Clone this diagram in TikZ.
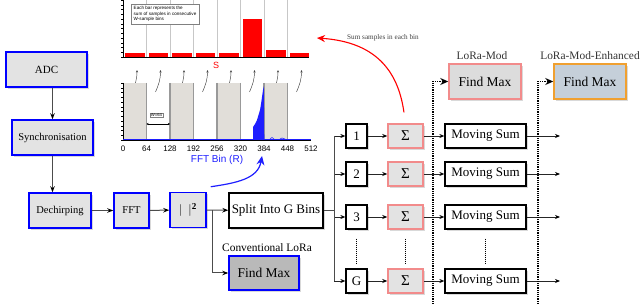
\documentclass[tikz,border=0pt]{standalone}
\usepackage{fontspec}
\setmainfont{Liberation Serif}
\newfontfamily\plotfont{Liberation Sans}
\usepackage{xcolor}
\usetikzlibrary{shapes.geometric, arrows, arrows.meta, positioning, shadows}
\definecolor{boxgray}{HTML}{E3E3E3}
\definecolor{darkbox}{HTML}{B9B9B9}
\definecolor{modgray}{HTML}{DCDCDC}
\definecolor{pinkline}{HTML}{F28B8B}
\definecolor{orangeline}{HTML}{F0A030}
\definecolor{steelbox}{HTML}{C5CFD9}
\definecolor{binshade}{HTML}{E1DED9}
\definecolor{fftblue}{HTML}{1E1EFF}
\newcommand{\ptsize}[1]{\fontsize{#1}{#1}\selectfont}
\tikzstyle{shade box} = [drop shadow={opacity=0.3, shadow xshift=2pt, shadow yshift=-2pt}]
\tikzstyle{blk} = [rectangle, draw=blue, line width=1.5pt, fill=boxgray,
minimum height=35pt, inner sep=1pt, text centered, shade box]
\tikzstyle{plain} = [rectangle, draw=black, line width=1.3pt, fill=white,
inner sep=1pt, text centered, shade box]
\tikzstyle{numbox} = [plain, minimum width=21pt, minimum height=24pt, font=\ptsize{13}]
\tikzstyle{sigma} = [rectangle, draw=pinkline, line width=1.5pt, fill=boxgray,
minimum width=35pt, minimum height=24pt, inner sep=1pt, font=\ptsize{15}, shade box]
\tikzstyle{msum} = [plain, minimum width=81pt, minimum height=24pt, font=\ptsize{13}]
\tikzstyle{arrow} = [draw=black!70, line width=1pt, -{Stealth[length=6pt, width=4.5pt, color=black]}]
\tikzstyle{line} = [draw=black!70, line width=1pt]
\tikzstyle{thinarrow} = [draw=black!85, line width=0.8pt, -{Stealth[length=5pt, width=4pt, color=black]}]
\tikzstyle{dotarrow} = [densely dotted, line width=1.2pt, -{Stealth[length=8pt, width=7pt]}]
\tikzstyle{tinyarrow} = [draw=black!75, line width=0.45pt, -{Stealth[length=2.5pt, width=2pt]}]

\begin{document}
\begin{tikzpicture}[x=1pt, y=-1pt]
\useasboundingbox (0,0) rectangle (640,304);

% receiver chain
\node[blk, minimum width=81pt, font=\ptsize{11}] (adc) at (46.5,69.5) {ADC};
\node[blk, minimum width=81pt, font=\ptsize{10.5}] (sync) at (52.5,137.5) {Synchronisation};
\node[blk, minimum width=62pt, font=\ptsize{10.5}] (dechirp) at (60,210.5) {Dechirping};
\node[blk, minimum width=35pt, font=\ptsize{10.5}] (fft) at (131.5,210.5) {FFT};
\node[blk, minimum width=36pt, font=\ptsize{13}] (mag) at (188,210) {$|\hspace{6pt}|^{\mathbf{2}}$};
\node[plain, minimum width=94pt, minimum height=35pt, font=\ptsize{13}] (split) at (276,210.5) {Split Into G Bins};
\node[blk, fill=darkbox, minimum width=70pt, minimum height=34pt, font=\ptsize{13.5}] (convmax) at (264,273) {Find Max};
\node[above=0pt of convmax, xshift=3pt, font=\ptsize{11.4}] (convlab) {Conventional LoRa};

\draw[arrow] (sync.north |- adc.south) -- (sync.north);
\draw[arrow] (sync.south) -- (sync.south |- dechirp.north);
\draw[arrow] (dechirp) -- (fft);
\draw[arrow] (fft) -- (mag);
\draw[arrow] (mag) -- (split);
\coordinate (tap) at (212,210.5);
\draw[arrow] (tap) |- (convmax.west);

% G branches
\coordinate (bus) at (334,210.5);
\draw[line, line width=0.8pt] (split.east) -- (bus);
\foreach \lab/\y/\n in {1/136/1, 2/174/2, 3/217/3, G/281/g}{
  \node[numbox] (b\n) at (356.5,\y) {\lab};
  \node[sigma] (s\n) at (405.5,\y) {Σ};
  \node[msum] (m\n) at (485.5,\y) {Moving Sum};
  \coordinate (o\n) at (560,\y);
  \draw[thinarrow] (bus |- b\n) -- (b\n);
  \draw[thinarrow] (b\n) -- (s\n);
  \draw[thinarrow] (s\n) -- (m\n);
  \draw[thinarrow] (m\n) -- (o\n);
}
\draw[line, line width=0.8pt] (bus |- b1) -- (bus |- bg);
\draw[densely dotted, line width=1pt] (b3.south) ++(0,9) -- ++(0,25);
\draw[densely dotted, line width=1pt] (s3.south) ++(0,9) -- ++(0,25);
\draw[densely dotted, line width=1pt] (m3.south) ++(0,9) -- ++(0,25);

% detectors
\node[blk, draw=pinkline, fill=modgray, minimum width=72pt, font=\ptsize{13.5}] (modmax) at (485,81.5) {Find Max};
\node[blk, draw=orangeline, fill=steelbox, minimum width=72pt, font=\ptsize{13.5}] (enhmax) at (590,81.5) {Find Max};
\node[above=0pt of modmax, xshift=-3pt, font=\ptsize{11.4}, text=black!80] (modlab) {LoRa-Mod};
\node[above=0pt of enhmax, font=\ptsize{11.4}, text=black!80] (enhlab) {LoRa-Mod-Enhanced};
\coordinate (tapa) at (433,304);
\coordinate (tapb) at (538,304);
\draw[dotarrow] (tapa) |- (modmax.west);
\draw[dotarrow] (tapb) |- (enhmax.west);

% annotations
\coordinate (sumpt) at (317,38);
\draw[red, line width=1.1pt, shorten <=11pt, -{Stealth[length=8pt, width=7pt]}]
  (s1.north) .. controls (398,70) and (375,42) .. (sumpt);
\node[font=\ptsize{7.2}, text=black!75] (sumlab) at (383,38) {Sum samples in each bin};
\coordinate (binpt) at (262,156);
\draw[fftblue, line width=1.2pt, -{Stealth[length=9pt, width=8pt]}]
  (mag.north east) ++(4,-5) .. controls (236,183) and (258,179) .. (binpt);

% bin sums
\foreach \i in {1,...,7}
  \draw[black!22, line width=0.8pt] ({123+\i*23.5},0) -- ({123+\i*23.5},57);
\foreach \i/\h in {0/4,1/4,2/4,3/4,4/4,5/38,6/7,7/4}
  \fill[red] ({123+\i*23.5+2},57) rectangle ({123+\i*23.5+21.5},{57-\h});
\foreach \y in {0,4.75,...,57}
  \draw[line width=0.3pt] (121,\y) -- (123,\y);
\foreach \i in {0,...,7}
  \draw[line width=0.3pt] ({123+\i*23.5+11.75},57) -- ({123+\i*23.5+11.75},58.5);
\draw[line width=0.6pt] (123,0) -- (123,57) -- (309,57);
\node[draw=black!50, line width=0.4pt, fill=white, align=left, inner sep=1.5pt,
  font=\plotfont\fontsize{4.6}{5.6}\selectfont, minimum width=68pt, minimum height=20pt,
  drop shadow={opacity=0.3, shadow xshift=1pt, shadow yshift=-1pt}] (note) at (165,14)
  {Each bar represents the\\sum of samples in consecutive\\W-sample bins};
\node[red, font=\plotfont\ptsize{9}] (slab) at (216,65) {S};
\foreach \i in {0,...,7}
  \draw[tinyarrow] ({123+\i*23.5+9},92) .. controls ({123+\i*23.5+12},85) and ({123+\i*23.5+14},80) .. ({123+\i*23.5+14},70);

% FFT bins
\foreach \i in {0,2,4,6}
  \fill[binshade] ({123+\i*23.5},83) rectangle ({123+(\i+1)*23.5},140);
\foreach \i in {1,...,7}
  \draw[black!40, line width=1.1pt] ({123+\i*23.5},83) -- ({123+\i*23.5},140);
\foreach \y in {83,87.75,...,140}
  \draw[line width=0.3pt] (121,\y) -- (123,\y);
\draw[line width=0.6pt] (123,83) -- (123,140) -- (311,140);
\draw[fftblue, line width=0.9pt] (123,139.5) -- (311,139.5);
\fill[fftblue] (253,140) -- (253,127) -- (255,124) -- (257,120) -- (258.5,115) -- (260,110)
  -- (261,104) -- (262,97) -- (263,90) -- (263.8,86.5) -- (264.3,140) -- cycle;
\draw[fftblue, line width=0.5pt] (270,139) -- (272,137.5) -- (274,139) (280,139) -- (282,138) -- (285,139);
\foreach \i [evaluate=\i as \v using int(\i*64)] in {0,...,8}
  \node[font=\plotfont\ptsize{8}] (tick\i) at ({123+\i*23.5},148.5) {\v};
\node[fftblue, font=\plotfont\ptsize{10}] (fftlab) at (217,160) {FFT Bin (R)};
\node[draw=black!50, line width=0.4pt, fill=white, inner sep=0.8pt,
  font=\plotfont\ptsize{4.2}] (wlab) at (156.5,115) {W=64};
\coordinate (wa) at (146.5,124);
\coordinate (wb) at (170,124);
\draw[line width=0.4pt, {Stealth[length=2pt, width=2pt]}-{Stealth[length=2pt, width=2pt]}] (wa) -- (wb);
\end{tikzpicture}
\end{document}
